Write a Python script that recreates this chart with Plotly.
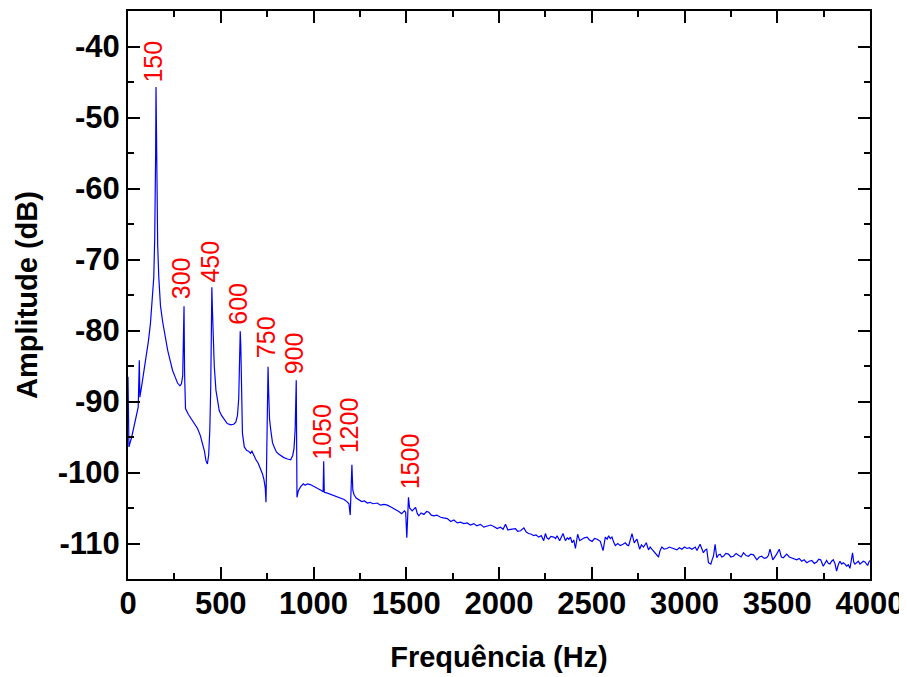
import plotly.graph_objects as go

# Spectrum
freq_hz = [
    0, 5, 20, 40, 55, 61, 64, 75, 94, 110, 121, 132, 139, 144, 147, 149, 151, 153, 156, 160,
    166, 175, 187, 200, 214, 228, 240, 255, 267, 280, 288, 295, 300, 302, 305, 310, 325, 340, 355, 375,
    390, 402, 412, 420, 428, 435, 441, 446, 449, 452, 455, 459, 465, 474, 483, 492, 505, 519, 535, 554,
    570, 581, 590, 597, 602, 605, 608, 612, 617, 627, 640, 650, 660, 668, 677, 690, 702, 713, 725, 733,
    740, 744, 750, 755, 758, 763, 770, 779, 788, 800, 812, 824, 840, 860, 877, 888, 895, 901, 905, 907,
    911, 918, 931, 945, 955, 967, 983, 995, 1010, 1025, 1040, 1052, 1055, 1058, 1075, 1093, 1110, 1130, 1147, 1165,
    1180, 1191, 1198, 1207, 1212, 1218, 1230, 1245, 1260, 1275, 1290, 1305, 1320, 1344, 1360, 1380, 1398, 1420, 1443, 1460,
    1475, 1490, 1497, 1503, 1512, 1518, 1532, 1550, 1560, 1568, 1580, 1595, 1610, 1622, 1635, 1649, 1665, 1685, 1700, 1721,
    1740, 1757, 1775, 1793, 1810, 1829, 1845, 1864, 1880, 1900, 1918, 1936, 1955, 1972, 1990, 2008, 2022, 2035, 2048, 2062,
    2075, 2089, 2100, 2116, 2134, 2147, 2160, 2175, 2187, 2200, 2214, 2228, 2241, 2250, 2258, 2268, 2280, 2295, 2305, 2313,
    2327, 2345, 2358, 2368, 2376, 2385, 2394, 2403, 2412, 2424, 2435, 2448, 2460, 2475, 2488, 2502, 2515, 2529, 2546, 2561,
    2573, 2583, 2591, 2600, 2609, 2618, 2627, 2640, 2654, 2668, 2681, 2690, 2699, 2717, 2729, 2737, 2744, 2758, 2768, 2779,
    2794, 2806, 2815, 2824, 2842, 2860, 2868, 2878, 2890, 2905, 2918, 2932, 2945, 2959, 2972, 2986, 3000, 3013, 3026, 3040,
    3058, 3067, 3084, 3102, 3112, 3120, 3129, 3142, 3150, 3156, 3165, 3174, 3183, 3192, 3201, 3210, 3223, 3237, 3250, 3264,
    3278, 3291, 3305, 3318, 3332, 3345, 3358, 3372, 3381, 3390, 3403, 3416, 3430, 3443, 3452, 3461, 3476, 3487, 3497, 3511,
    3522, 3533, 3542, 3551, 3565, 3578, 3592, 3605, 3618, 3632, 3645, 3659, 3672, 3686, 3700, 3713, 3724, 3734, 3748, 3757,
    3766, 3775, 3784, 3793, 3802, 3811, 3820, 3829, 3838, 3847, 3856, 3865, 3874, 3883, 3892, 3906, 3912, 3919, 3928, 3937,
    3946, 3955, 3964, 3973, 3980, 3987, 3994, 4000,
]
amplitude_db = [
    -86.5, -96.4, -95.0, -92.6, -90.8, -84.2, -89.4, -87.6, -84.4, -81.5, -79.0, -75.5, -72.5, -67.0, -62.0, -55.0, -45.7, -54.0, -62.1, -68.0,
    -72.5, -76.5, -78.8, -80.8, -82.8, -84.3, -85.6, -86.6, -87.4, -87.8, -87.5, -86.4, -80.0, -76.6, -86.0, -91.0, -91.8, -92.4, -93.0, -93.8,
    -94.8, -95.9, -97.0, -98.3, -98.8, -97.5, -94.0, -88.0, -80.0, -73.9, -77.0, -81.5, -85.0, -88.4, -90.2, -91.3, -92.0, -92.6, -93.1, -93.3,
    -93.2, -92.9, -92.0, -89.5, -85.0, -80.1, -82.0, -90.0, -94.5, -96.4, -96.9, -97.0, -97.3, -97.0, -97.6, -98.2, -98.7, -99.3, -100.2, -101.0,
    -102.2, -104.2, -95.0, -85.1, -88.5, -92.5, -94.1, -95.8, -96.4, -97.1, -97.4, -97.6, -97.9, -98.1, -98.2, -97.6, -96.6, -94.0, -90.0, -87.0,
    -103.5, -102.6, -102.0, -101.6, -101.8, -101.6, -101.7, -101.9, -102.1, -102.3, -102.5, -102.7, -98.4, -102.8, -102.9, -103.1, -103.3, -103.5, -103.6, -103.8,
    -104.1, -104.4, -106.0, -98.9, -102.5, -103.1, -103.6, -103.9, -104.1, -104.0, -104.3, -104.2, -104.4, -104.3, -104.6, -104.5, -104.6, -104.9, -105.2, -105.5,
    -105.8, -105.4, -105.6, -109.2, -103.5, -105.0, -105.4, -104.9, -105.8, -106.1, -105.7, -105.9, -105.5, -105.6, -106.0, -106.1, -106.0, -106.3, -106.4, -106.5,
    -106.9, -106.7, -107.1, -107.0, -107.2, -107.1, -107.4, -107.2, -107.5, -107.3, -107.7, -107.6, -107.4, -107.6, -107.9, -107.7, -108.0, -107.3, -108.1, -108.0,
    -107.9, -107.9, -108.3, -108.2, -107.8, -108.4, -108.6, -108.7, -108.9, -108.8, -109.1, -108.9, -109.6, -108.6, -109.2, -109.4, -109.0, -109.1, -109.3, -108.9,
    -109.6, -108.6, -109.6, -109.2, -109.4, -109.1, -109.9, -109.5, -110.7, -108.7, -109.6, -109.4, -109.2, -109.1, -109.5, -109.7, -109.3, -109.4, -109.7, -111.0,
    -109.1, -109.4, -108.9, -109.3, -109.1, -109.8, -110.3, -110.0, -110.3, -110.1, -109.9, -110.2, -110.3, -108.6, -109.9, -109.6, -109.4, -110.8, -110.2, -110.5,
    -109.9, -110.9, -110.5, -110.8, -111.3, -111.9, -111.0, -110.5, -110.8, -110.7, -110.5, -110.6, -110.8, -110.9, -110.6, -110.8, -110.5, -110.7, -110.6, -110.8,
    -110.5, -111.0, -110.1, -111.3, -110.9, -110.8, -112.7, -112.9, -112.2, -111.8, -110.1, -112.0, -111.6, -111.5, -111.9, -111.8, -111.4, -111.5, -111.9, -111.8,
    -111.4, -111.6, -111.9, -111.3, -111.7, -111.8, -111.5, -111.6, -111.9, -112.3, -111.9, -111.8, -112.1, -112.0, -111.7, -110.8, -112.3, -111.9, -111.5, -110.8,
    -111.9, -112.0, -111.7, -111.5, -111.9, -112.0, -112.2, -112.3, -112.1, -112.5, -112.3, -112.7, -112.5, -112.4, -112.8, -112.6, -112.2, -112.3, -113.2, -112.7,
    -112.4, -112.8, -112.9, -112.5, -112.3, -112.8, -113.9, -113.0, -112.5, -112.9, -112.7, -112.9, -113.2, -113.0, -113.5, -111.3, -112.6, -112.9, -112.7, -112.5,
    -112.9, -112.7, -112.5, -112.6, -112.9, -113.1, -112.6, -112.4,
]

# Harmonic labels (text, centre frequency, amplitude at the label's lower end)
peak_labels = ["150", "300", "450", "600", "750", "900", "1050", "1200", "1500"]
peak_label_hz = [137, 290, 445, 592, 743, 893, 1045, 1196, 1522]
peak_label_db = [-45.3, -75.9, -73.6, -79.5, -84.2, -86.5, -98.5, -97.6, -102.6]

x_ticks = [0, 500, 1000, 1500, 2000, 2500, 3000, 3500, 4000]
y_ticks = [-40, -50, -60, -70, -80, -90, -100, -110]

FONT = "Liberation Sans, Arial, sans-serif"

fig = go.Figure()
fig.add_trace(go.Scatter(
    x=freq_hz, y=amplitude_db, mode="lines",
    line=dict(color="#0000FF", width=1.2),
    showlegend=False, hoverinfo="x+y",
))

for txt, hx, hy in zip(peak_labels, peak_label_hz, peak_label_db):
    fig.add_annotation(
        x=hx, y=hy, text=txt, showarrow=False, textangle=-90,
        xanchor="center", yanchor="bottom",
        font=dict(family=FONT, size=25, color="#FF0000"),
    )

axis_common = dict(
    showline=True, linecolor="black", linewidth=2, mirror="allticks",
    ticks="inside", ticklen=12, tickwidth=2, tickcolor="black",
    showgrid=False, zeroline=False,
    tickfont=dict(family=FONT, size=31, color="black", weight="bold"),
)

fig.update_xaxes(
    range=[0, 4000], tickvals=x_ticks, ticktext=[str(v) for v in x_ticks],
    minor=dict(ticks="inside", ticklen=6, tickwidth=2, tickcolor="black", dtick=250, tick0=0),
    title=dict(text="Frequência (Hz)", font=dict(family=FONT, size=29, color="black", weight="bold"), standoff=26),
    ticklabelstandoff=-4,
    **axis_common,
)
fig.update_yaxes(
    range=[-115, -35], tickvals=y_ticks, ticktext=[str(v) for v in y_ticks],
    minor=dict(ticks="inside", ticklen=6, tickwidth=2, tickcolor="black", dtick=5, tick0=-35),
    title=dict(text="Amplitude (dB)", font=dict(family=FONT, size=29, color="black", weight="bold"), standoff=12),
    **axis_common,
)

# The page body has an 8 px margin, so the figure is sized to place the
# plotting area where it sits in the reference picture.
fig.update_layout(
    width=899, height=669,
    margin=dict(l=119.5, r=36.5, t=2.5, b=98, autoexpand=False),
    plot_bgcolor="white", paper_bgcolor="white",
    font=dict(family=FONT),
)

fig.write_html("out.html")
